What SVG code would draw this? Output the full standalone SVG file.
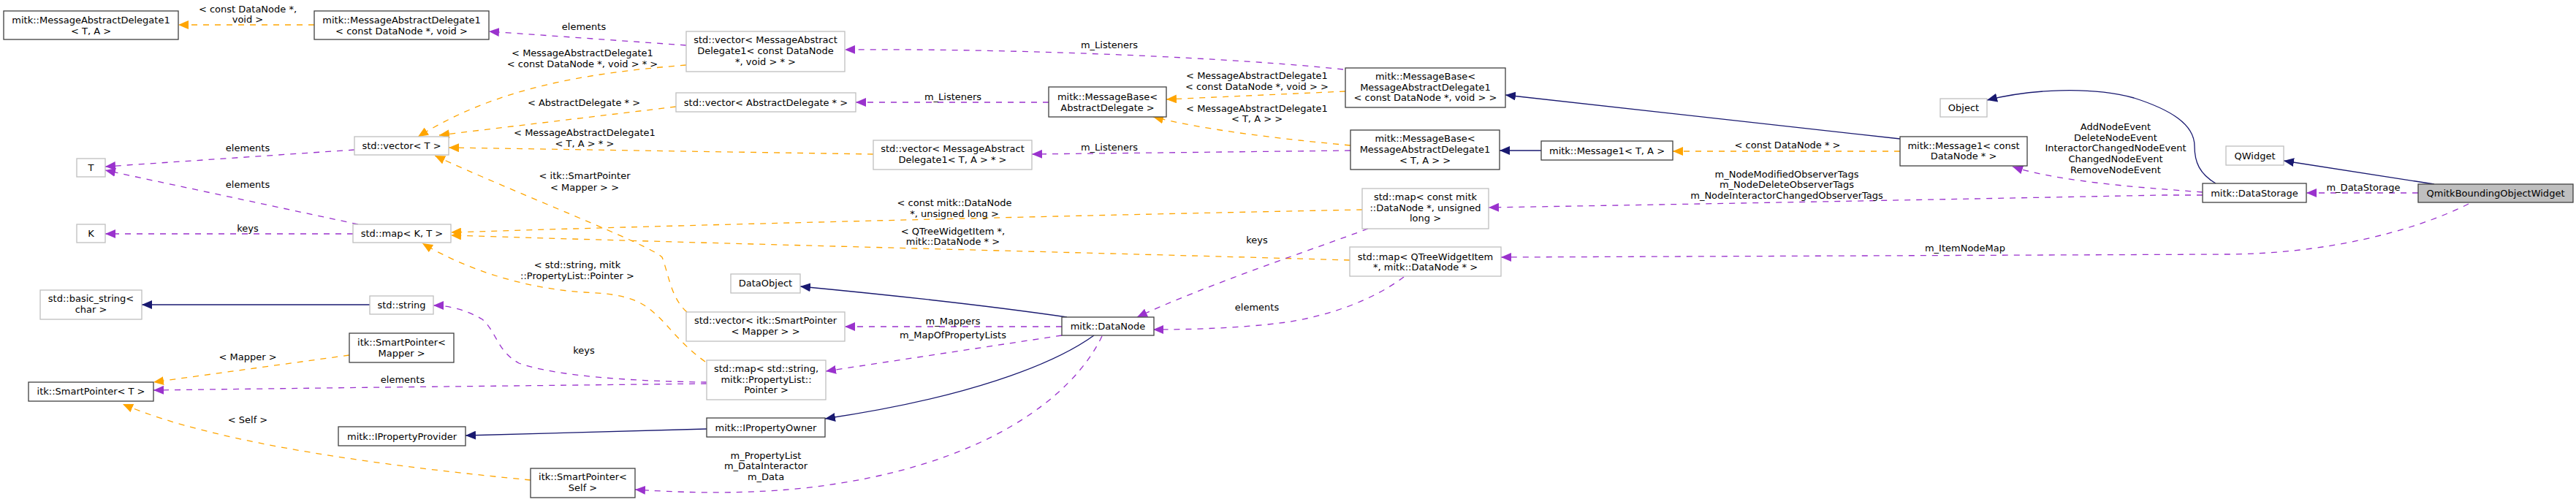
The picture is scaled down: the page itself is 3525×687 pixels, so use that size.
<svg xmlns="http://www.w3.org/2000/svg" width="3525" height="687" viewBox="0 0 3525 687">
<style>
text{font-family:"DejaVu Sans","Liberation Sans",sans-serif;font-size:13px;fill:#000;text-anchor:middle}
.d{fill:#fff;stroke:#404040;stroke-width:1.3}
.u{fill:#fff;stroke:#bfbfbf;stroke-width:1.3}
.s{fill:#bfbfbf;stroke:#404040;stroke-width:1.3}
.inh{fill:none;stroke:#191970;stroke-width:1.3;marker-end:url(#aB)}
.use{fill:none;stroke:#9a32cd;stroke-width:1.3;stroke-dasharray:8,8;marker-end:url(#aP)}
.tpl{fill:none;stroke:#ffa500;stroke-width:1.3;stroke-dasharray:8,8;marker-end:url(#aO)}
</style>
<defs>
<marker id="aB" markerUnits="userSpaceOnUse" markerWidth="14" markerHeight="12" viewBox="0 0 14 12" refX="14" refY="6" orient="auto"><path d="M0,0L14,6L0,12z" fill="#191970"/></marker>
<marker id="aP" markerUnits="userSpaceOnUse" markerWidth="14" markerHeight="12" viewBox="0 0 14 12" refX="14" refY="6" orient="auto"><path d="M0,0L14,6L0,12z" fill="#9a32cd"/></marker>
<marker id="aO" markerUnits="userSpaceOnUse" markerWidth="14" markerHeight="12" viewBox="0 0 14 12" refX="14" refY="6" orient="auto"><path d="M0,0L14,6L0,12z" fill="#ffa500"/></marker>
</defs>
<rect width="3525" height="687" fill="#fff"/>
<g id="connectors">
<!-- template edges -->
<path class="tpl" d="M430,34L244,34"/>
<text x="339" y="17">&lt; const DataNode *,</text><text x="339" y="31">void &gt;</text>
<path class="tpl" d="M939,89C800,100 680,120 572,187"/>
<text x="797" y="77">&lt; MessageAbstractDelegate1</text><text x="797" y="92">&lt; const DataNode *, void &gt; * &gt;</text>
<path class="tpl" d="M925,146L601,185"/>
<text x="799" y="145">&lt; AbstractDelegate * &gt;</text>
<path class="tpl" d="M1195,211L614,202"/>
<text x="800" y="186">&lt; MessageAbstractDelegate1</text><text x="800" y="201">&lt; T, A &gt; * &gt;</text>
<path class="tpl" d="M940,427C918,408 915,375 906,352C890,335 700,262 595,213"/>
<text x="800" y="245">&lt; itk::SmartPointer</text><text x="800" y="261">&lt; Mapper &gt; &gt;</text>
<path class="tpl" d="M1864,287C1600,292 1000,306 617,318"/>
<text x="1306" y="282">&lt; const mitk::DataNode</text><text x="1306" y="297">*, unsigned long &gt;</text>
<path class="tpl" d="M1847,356C1500,346 1000,334 617,322"/>
<text x="1304" y="321">&lt; QTreeWidgetItem *,</text><text x="1304" y="335">mitk::DataNode * &gt;</text>
<path class="tpl" d="M965,495C930,470 915,445 895,428C870,405 840,402 800,400C720,395 640,370 578,333"/>
<text x="790" y="367">&lt; std::string, mitk</text><text x="790" y="382">::PropertyList::Pointer &gt;</text>
<path class="tpl" d="M1841,125L1596,136"/>
<text x="1720" y="108">&lt; MessageAbstractDelegate1</text><text x="1720" y="123">&lt; const DataNode *, void &gt; &gt;</text>
<path class="tpl" d="M1848,199C1750,190 1650,178 1578,160"/>
<text x="1720" y="153">&lt; MessageAbstractDelegate1</text><text x="1720" y="167">&lt; T, A &gt; &gt;</text>
<path class="tpl" d="M2600,207L2289,207"/>
<text x="2446" y="203">&lt; const DataNode * &gt;</text>
<path class="tpl" d="M478,486L210,523"/>
<text x="339" y="493">&lt; Mapper &gt;</text>
<path class="tpl" d="M726,657C550,640 300,610 168,553"/>
<text x="339" y="579">&lt; Self &gt;</text>
<!-- usage edges -->
<path class="use" d="M939,62L669,43"/>
<text x="799" y="41">elements</text>
<path class="use" d="M485,205L144,228"/>
<text x="339" y="207">elements</text>
<path class="use" d="M490,307L144,233"/>
<text x="339" y="257">elements</text>
<path class="use" d="M483,320L144,320"/>
<text x="339" y="317">keys</text>
<path class="use" d="M1838,95C1700,80 1400,66 1156,68"/>
<text x="1518" y="66">m_Listeners</text>
<path class="use" d="M1435,140L1171,140"/>
<text x="1304" y="137">m_Listeners</text>
<path class="use" d="M1848,206L1412,211"/>
<text x="1518" y="206">m_Listeners</text>
<path class="use" d="M3014,267L2960,267C2700,272 2400,278 2037,284"/>
<text x="2445" y="243">m_NodeModifiedObserverTags</text><text x="2445" y="257">m_NodeDeleteObserverTags</text><text x="2445" y="272">m_NodeInteractorChangedObserverTags</text>
<path class="use" d="M3014,263C2950,258 2820,250 2754,228"/>
<text x="2895" y="178">AddNodeEvent</text><text x="2895" y="193">DeleteNodeEvent</text><text x="2895" y="207">InteractorChangedNodeEvent</text><text x="2895" y="222">ChangedNodeEvent</text><text x="2895" y="237">RemoveNodeEvent</text>
<path class="use" d="M3309,264L3156,264"/>
<text x="3234" y="261">m_DataStorage</text>
<path class="use" d="M3378,279C3300,318 3180,347 3050,348L2054,352"/>
<text x="2689" y="344">m_ItemNodeMap</text>
<path class="use" d="M1872,313C1800,340 1650,390 1556,434"/>
<text x="1720" y="333">keys</text>
<path class="use" d="M1921,379C1880,410 1820,432 1760,441C1700,449 1630,451 1578,451"/>
<text x="1720" y="425">elements</text>
<path class="use" d="M1453,447L1156,447"/>
<text x="1304" y="444">m_Mappers</text>
<path class="use" d="M1453,459L1130,508"/>
<text x="1304" y="463">m_MapOfPropertyLists</text>
<path class="use" d="M1508,460C1470,540 1350,640 1100,668C1000,678 920,673 869,670"/>
<text x="1048" y="628">m_PropertyList</text><text x="1048" y="642">m_DataInteractor</text><text x="1048" y="657">m_Data</text>
<path class="use" d="M967,523C870,522 760,515 710,497C680,480 680,455 660,437C640,425 615,418 593,418"/>
<text x="799" y="484">keys</text>
<path class="use" d="M967,525C800,527 500,530 210,534"/>
<text x="551" y="524">elements</text>
<!-- inheritance edges -->
<path class="inh" d="M2109,206L2052,206"/>
<path class="inh" d="M2600,190L2060,130"/>
<path class="inh" d="M3032,251C3010,238 3003,222 3003,200C3003,170 2970,150 2920,134C2860,118 2780,122 2719,137"/>
<path class="inh" d="M3331,252L3125,220"/>
<path class="inh" d="M506,417L194,417"/>
<path class="inh" d="M967,587L637,596"/>
<path class="inh" d="M1460,434C1350,418 1200,402 1095,392"/>
<path class="inh" d="M1497,459C1440,500 1320,545 1129,573"/>
</g>
<g id="n_mad1_ta"><rect class="d" x="5" y="15" width="239" height="39"/><text x="124.5" y="32">mitk::MessageAbstractDelegate1</text><text x="124.5" y="46.5">&lt; T, A &gt;</text></g>
<g id="n_mad1_cdn"><rect class="d" x="430" y="15" width="239" height="39"/><text x="549.5" y="32">mitk::MessageAbstractDelegate1</text><text x="549.5" y="46.5">&lt; const DataNode *, void &gt;</text></g>
<g id="n_T"><rect class="u" x="105" y="217" width="39" height="25"/><text x="124.5" y="234">T</text></g>
<g id="n_K"><rect class="u" x="105" y="307" width="39" height="25"/><text x="124.5" y="324">K</text></g>
<g id="n_vecT"><rect class="u" x="485" y="187" width="129" height="25"/><text x="549.5" y="204">std::vector&lt; T &gt;</text></g>
<g id="n_mapKT"><rect class="u" x="483" y="307" width="134" height="25"/><text x="550" y="324">std::map&lt; K, T &gt;</text></g>
<g id="n_vec_mad1cdn"><rect class="u" x="939" y="43" width="217" height="55"/><text x="1047.5" y="59">std::vector&lt; MessageAbstract</text><text x="1047.5" y="74">Delegate1&lt; const DataNode</text><text x="1047.5" y="89">*, void &gt; * &gt;</text></g>
<g id="n_vec_ad"><rect class="u" x="925" y="127" width="246" height="26"/><text x="1048" y="145">std::vector&lt; AbstractDelegate * &gt;</text></g>
<g id="n_mb_ad"><rect class="d" x="1435" y="119" width="161" height="41"/><text x="1515.5" y="137">mitk::MessageBase&lt;</text><text x="1515.5" y="152">AbstractDelegate &gt;</text></g>
<g id="n_vec_mad1ta"><rect class="u" x="1195" y="192" width="217" height="40"/><text x="1303.5" y="208">std::vector&lt; MessageAbstract</text><text x="1303.5" y="223">Delegate1&lt; T, A &gt; * &gt;</text></g>
<g id="n_mb_mad1cdn"><rect class="d" x="1841" y="93" width="219" height="54"/><text x="1950.5" y="109">mitk::MessageBase&lt;</text><text x="1950.5" y="124">MessageAbstractDelegate1</text><text x="1950.5" y="138">&lt; const DataNode *, void &gt; &gt;</text></g>
<g id="n_mb_mad1ta"><rect class="d" x="1848" y="178" width="204" height="54"/><text x="1950" y="194">mitk::MessageBase&lt;</text><text x="1950" y="209">MessageAbstractDelegate1</text><text x="1950" y="224">&lt; T, A &gt; &gt;</text></g>
<g id="n_msg1_ta"><rect class="d" x="2109" y="193" width="180" height="26"/><text x="2199" y="211">mitk::Message1&lt; T, A &gt;</text></g>
<g id="n_map_cdn_ul"><rect class="u" x="1864" y="258" width="173" height="55"/><text x="1950.5" y="274">std::map&lt; const mitk</text><text x="1950.5" y="289">::DataNode *, unsigned</text><text x="1950.5" y="303">long &gt;</text></g>
<g id="n_map_qtree"><rect class="u" x="1847" y="338" width="207" height="40"/><text x="1950.5" y="356">std::map&lt; QTreeWidgetItem</text><text x="1950.5" y="370">*, mitk::DataNode * &gt;</text></g>
<g id="n_object"><rect class="u" x="2655" y="135" width="64" height="25"/><text x="2687" y="152">Object</text></g>
<g id="n_msg1_cdn"><rect class="d" x="2600" y="187" width="174" height="40"/><text x="2687" y="204">mitk::Message1&lt; const</text><text x="2687" y="218">DataNode * &gt;</text></g>
<g id="n_qwidget"><rect class="u" x="3046" y="200" width="79" height="26"/><text x="3085.5" y="218">QWidget</text></g>
<g id="n_datastorage"><rect class="d" x="3014" y="251" width="142" height="26"/><text x="3085" y="269">mitk::DataStorage</text></g>
<g id="n_qmitk"><rect class="s" x="3309" y="252" width="212" height="25"/><text x="3415" y="269">QmitkBoundingObjectWidget</text></g>
<g id="n_basic_string"><rect class="u" x="55" y="397" width="139" height="40"/><text x="124.5" y="413">std::basic_string&lt;</text><text x="124.5" y="428">char &gt;</text></g>
<g id="n_string"><rect class="u" x="506" y="405" width="87" height="25"/><text x="549.5" y="422">std::string</text></g>
<g id="n_sp_mapper"><rect class="d" x="478" y="456" width="143" height="40"/><text x="549.5" y="473">itk::SmartPointer&lt;</text><text x="549.5" y="488">Mapper &gt;</text></g>
<g id="n_sp_T"><rect class="d" x="39" y="523" width="171" height="26"/><text x="124.5" y="540">itk::SmartPointer&lt; T &gt;</text></g>
<g id="n_ipp"><rect class="d" x="463" y="584" width="174" height="26"/><text x="550" y="602">mitk::IPropertyProvider</text></g>
<g id="n_dataobject"><rect class="u" x="1000" y="375" width="95" height="26"/><text x="1047.5" y="392">DataObject</text></g>
<g id="n_vec_sp_mapper"><rect class="u" x="939" y="427" width="217" height="40"/><text x="1047.5" y="443">std::vector&lt; itk::SmartPointer</text><text x="1047.5" y="458">&lt; Mapper &gt; &gt;</text></g>
<g id="n_map_str_pl"><rect class="u" x="967" y="493" width="163" height="54"/><text x="1048.5" y="509">std::map&lt; std::string,</text><text x="1048.5" y="524">mitk::PropertyList::</text><text x="1048.5" y="538">Pointer &gt;</text></g>
<g id="n_ipo"><rect class="d" x="967" y="572" width="162" height="26"/><text x="1048" y="590">mitk::IPropertyOwner</text></g>
<g id="n_sp_self"><rect class="d" x="726" y="641" width="143" height="40"/><text x="797.5" y="657">itk::SmartPointer&lt;</text><text x="797.5" y="672">Self &gt;</text></g>
<g id="n_datanode"><rect class="d" x="1453" y="434" width="126" height="25"/><text x="1516" y="451">mitk::DataNode</text></g>
</svg>
